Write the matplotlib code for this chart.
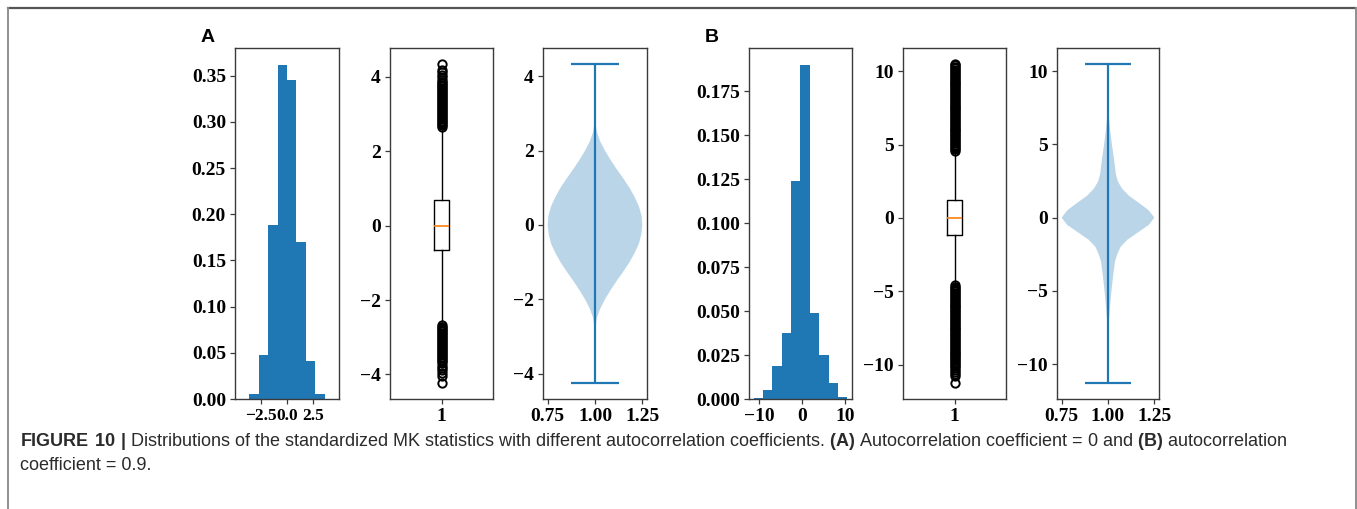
import matplotlib
matplotlib.use("Agg")
import matplotlib.pyplot as plt
import numpy as np
from matplotlib.lines import Line2D

# ---------------- data ----------------
# (A) autocorrelation coefficient = 0
a_hist_edges = [-4.5, -3.6, -2.7, -1.8, -0.9, 0.0, 0.9, 1.8, 2.7, 3.6, 4.5]
a_hist_density = [0.0003, 0.005, 0.048, 0.188, 0.362, 0.345, 0.170, 0.041, 0.005, 0.0003]

a_box = dict(med=0.0, q1=-0.67, q3=0.68, whislo=-2.68, whishi=2.65)
a_fliers_high = [2.66, 2.70, 2.74, 2.78, 2.82, 2.86, 2.90, 2.94, 2.98, 3.02, 3.06,
                 3.10, 3.14, 3.18, 3.22, 3.26, 3.30, 3.34, 3.38, 3.42, 3.46, 3.50,
                 3.54, 3.58, 3.62, 3.66, 3.70, 3.74, 3.78, 3.82, 3.86, 3.92, 3.98,
                 4.05, 4.12, 4.19, 4.34]
a_fliers_low = [-2.68, -2.72, -2.76, -2.80, -2.84, -2.88, -2.92, -2.96, -3.00,
                -3.04, -3.08, -3.12, -3.16, -3.20, -3.24, -3.28, -3.32, -3.36,
                -3.40, -3.44, -3.48, -3.52, -3.56, -3.60, -3.65, -3.70, -3.76,
                -3.82, -3.88, -3.96, -4.04, -4.23]

a_violin_y = [-4.25, -3.5, -3.0, -2.75, -2.5, -2.25, -2.0, -1.75, -1.5, -1.25, -1.0,
              -0.75, -0.5, -0.25, 0.0, 0.25, 0.5, 0.75, 1.0, 1.25, 1.5, 1.75, 2.0,
              2.25, 2.5, 2.75, 3.0, 3.5, 4.33]
a_violin_density = [0.0, 0.0005, 0.004, 0.012, 0.04, 0.11, 0.21, 0.33, 0.46, 0.60,
                    0.73, 0.84, 0.93, 0.98, 1.0, 0.985, 0.93, 0.84, 0.73, 0.60, 0.46,
                    0.33, 0.21, 0.11, 0.04, 0.012, 0.004, 0.0005, 0.0]
a_min, a_max = -4.25, 4.33

# (B) autocorrelation coefficient = 0.9
b_hist_edges = [-11.3, -9.12, -6.94, -4.76, -2.58, -0.40, 1.78, 3.96, 6.14, 8.32, 10.5]
b_hist_density = [0.0003, 0.005, 0.019, 0.0374, 0.124, 0.190, 0.0488, 0.025, 0.0089, 0.001]

b_box = dict(med=0.0, q1=-1.19, q3=1.21, whislo=-4.55, whishi=4.6)
b_fliers_high = [4.6, 4.7, 4.8, 4.9, 5.0, 5.1, 5.2, 5.3, 5.4, 5.5, 5.6, 5.7, 5.8, 5.9,
                 6.0, 6.1, 6.2, 6.3, 6.4, 6.5, 6.6, 6.7, 6.8, 6.9, 7.0, 7.1, 7.2, 7.3,
                 7.4, 7.5, 7.6, 7.7, 7.8, 7.9, 8.0, 8.1, 8.2, 8.3, 8.4, 8.5, 8.6, 8.7,
                 8.8, 8.9, 9.0, 9.1, 9.2, 9.3, 9.4, 9.5, 9.6, 9.7, 9.8, 9.9, 10.0,
                 10.1, 10.2, 10.3, 10.4, 10.5]
b_fliers_low = [-4.6, -4.7, -4.8, -4.9, -5.0, -5.1, -5.2, -5.3, -5.4, -5.5, -5.6, -5.7,
                -5.8, -5.9, -6.0, -6.1, -6.2, -6.3, -6.4, -6.5, -6.6, -6.7, -6.8, -6.9,
                -7.0, -7.1, -7.2, -7.3, -7.4, -7.5, -7.6, -7.7, -7.8, -7.9, -8.0, -8.1,
                -8.2, -8.3, -8.4, -8.5, -8.6, -8.7, -8.8, -8.9, -9.0, -9.1, -9.2, -9.3,
                -9.4, -9.5, -9.6, -9.7, -9.8, -9.9, -10.0, -10.1, -10.2, -10.35,
                -10.5, -10.65, -10.8, -11.25]

b_violin_y = [-11.3, -8.0, -7.0, -6.0, -5.0, -4.0, -3.0, -2.5, -2.0, -1.5, -1.0, -0.5,
              0.0, 0.5, 1.0, 1.5, 2.0, 2.5, 3.0, 4.0, 5.0, 6.0, 7.4, 10.5]
b_violin_density = [0.0, 0.003, 0.02, 0.045, 0.075, 0.11, 0.15, 0.20, 0.27, 0.42,
                    0.65, 0.88, 1.0, 0.88, 0.67, 0.45, 0.30, 0.21, 0.17, 0.13, 0.085,
                    0.045, 0.003, 0.0]
b_min, b_max = -11.3, 10.5

hist_yticks_a = [0.0, 0.05, 0.10, 0.15, 0.20, 0.25, 0.30, 0.35]
hist_yticks_b = [0.0, 0.025, 0.05, 0.075, 0.10, 0.125, 0.15, 0.175]

# ---------------- style ----------------
plt.rcParams["font.family"] = "Liberation Serif"
plt.rcParams["font.weight"] = "bold"
plt.rcParams["font.size"] = 14
plt.rcParams["mathtext.fontset"] = "custom"
plt.rcParams["mathtext.rm"] = "Liberation Sans"
plt.rcParams["mathtext.bf"] = "Liberation Sans:bold"

W, H = 1357, 509
fig = plt.figure(figsize=(W / 100, H / 100), dpi=100)

spine_col = "#3a3a3a"


def add_axes(left_px, width_px=103):
    top_px, bottom_px = 48, 399
    ax = fig.add_axes([left_px / W, 1 - bottom_px / H, width_px / W,
                       (bottom_px - top_px) / H])
    for s in ax.spines.values():
        s.set_color(spine_col)
        s.set_linewidth(1.0)
    ax.tick_params(direction="out", length=3.5, width=0.9, color=spine_col,
                   labelsize=14, labelcolor="black", pad=3)
    return ax


def draw_hist(ax, edges, dens, xticks, yticks):
    edges = np.asarray(edges)
    ax.bar(edges[:-1], dens, width=np.diff(edges), align="edge",
           color="#1f77b4", linewidth=0)
    ax.set_xticks(xticks)
    ax.set_yticks(yticks)


def draw_box(ax, box, hi, lo, yticks):
    stats = dict(box)
    stats["fliers"] = np.array(hi + lo)
    ax.bxp([stats], positions=[1], widths=0.15, showfliers=True,
           flierprops=dict(marker="o", markerfacecolor="none",
                           markeredgecolor="black", markersize=6,
                           markeredgewidth=1.4),
           medianprops=dict(color="#ff7f0e", linewidth=1.2),
           boxprops=dict(color="black", linewidth=1.0),
           whiskerprops=dict(color="black", linewidth=1.0),
           capprops=dict(color="black", linewidth=1.0))
    ax.set_xticks([1])
    ax.set_xticklabels(["1"])
    ax.set_yticks(yticks)


def draw_violin(ax, ys, dens, vmin, vmax, yticks):
    vp = dict(coords=np.array(ys), vals=np.array(dens), mean=0.0, median=0.0,
              min=vmin, max=vmax)
    parts = ax.violin([vp], positions=[1], widths=0.5, showextrema=True)
    for b in parts["bodies"]:
        b.set_facecolor("#1f77b4")
        b.set_edgecolor("none")
        b.set_alpha(0.3)
    for key in ("cmaxes", "cmins", "cbars"):
        parts[key].set_color("#1f77b4")
        parts[key].set_linewidth(1.6)
    ax.set_xticks([0.75, 1.00, 1.25])
    ax.set_yticks(yticks)


# panel A
ax1 = add_axes(235, 104)
draw_hist(ax1, a_hist_edges, a_hist_density, [-2.5, 0.0, 2.5], hist_yticks_a)
ax1.tick_params(axis="x", labelsize=12.5)
ax2 = add_axes(390)
draw_box(ax2, a_box, a_fliers_high, a_fliers_low, [-4, -2, 0, 2, 4])
ax3 = add_axes(543, 104)
draw_violin(ax3, a_violin_y, a_violin_density, a_min, a_max, [-4, -2, 0, 2, 4])

# panel B
ax4 = add_axes(749)
draw_hist(ax4, b_hist_edges, b_hist_density, [-10, 0, 10], hist_yticks_b)
ax5 = add_axes(903)
draw_box(ax5, b_box, b_fliers_high, b_fliers_low, [-10, -5, 0, 5, 10])
ax6 = add_axes(1057, 102)
draw_violin(ax6, b_violin_y, b_violin_density, b_min, b_max, [-10, -5, 0, 5, 10])

# panel letters
fig.text(208 / W, 1 - 38 / H, "A", family="Liberation Sans", weight="bold",
         fontsize=14, ha="center", va="center", color="black")
fig.text(712 / W, 1 - 38 / H, "B", family="Liberation Sans", weight="bold",
         fontsize=14, ha="center", va="center", color="black")

# frame around the figure
fig.add_artist(Line2D([7.5 / W, 1356 / W], [1 - 8 / H, 1 - 8 / H],
                      transform=fig.transFigure, color="#555555", lw=1.6))
fig.add_artist(Line2D([7.5 / W, 7.5 / W], [1 - 8 / H, 0],
                      transform=fig.transFigure, color="#8f8f8f", lw=1.4))
fig.add_artist(Line2D([1355.5 / W, 1355.5 / W], [1 - 8 / H, 0],
                      transform=fig.transFigure, color="#8f8f8f", lw=1.4))

# caption
cap1 = (r"$\mathbf{FIGURE\ 10\ |}$ Distributions of the standardized MK statistics "
        r"with different autocorrelation coefficients. $\mathbf{(A)}$ Autocorrelation "
        r"coefficient = 0 and $\mathbf{(B)}$ autocorrelation")
cap2 = "coefficient = 0.9."
fig.text(20 / W, 1 - 441 / H, cap1, family="Liberation Sans", weight="normal",
         fontsize=13, ha="left", va="center", color="#2b2b2b")
fig.text(20 / W, 1 - 466 / H, cap2, family="Liberation Sans", weight="normal",
         fontsize=13, ha="left", va="center", color="#2b2b2b")

fig.savefig("out.png", dpi=100, facecolor="white")
